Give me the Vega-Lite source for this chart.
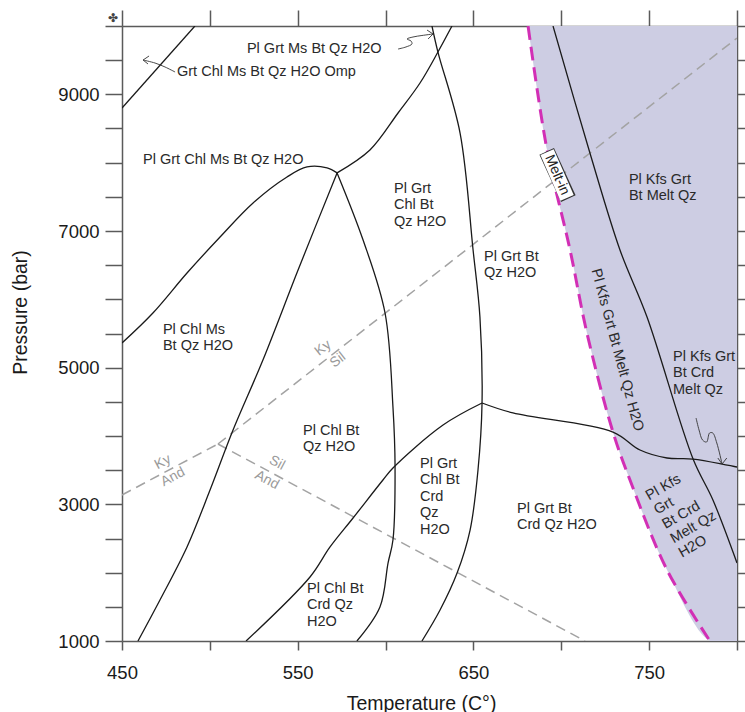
{
  "$schema": "https://vega.github.io/schema/vega-lite/v6.json",
  "width": 615,
  "height": 615,
  "autosize": {"type": "none"},
  "padding": {"left": 122, "top": 26, "right": 8, "bottom": 71},
  "background": "white",
  "config": {
    "view": {"stroke": null},
    "font": "Liberation Sans",
    "axis": {
      "grid": false,
      "domainColor": "#5a5a5a",
      "domainWidth": 1.5,
      "tickColor": "#5a5a5a",
      "tickWidth": 1.5,
      "labelFont": "Liberation Sans",
      "labelFontSize": 18.5,
      "labelColor": "#1a1a1a",
      "labelFlush": false,
      "titleFont": "Liberation Sans",
      "titleFontSize": 19.5,
      "titleFontWeight": "normal",
      "titleColor": "#1a1a1a"
    }
  },
  "resolve": {"axis": {"x": "independent", "y": "independent"}},
  "datasets": {
    "lines": [
      {"g": "p", "id": "L1", "i": 0, "T": 450, "P": 8800},
      {"g": "p", "id": "L1", "i": 1, "T": 491.5, "P": 10000},
      {"g": "p", "id": "LA", "i": 0, "T": 450, "P": 5361},
      {"g": "p", "id": "LA", "i": 1, "T": 467.6, "P": 5800},
      {"g": "p", "id": "LA", "i": 2, "T": 487.0, "P": 6385},
      {"g": "p", "id": "LA", "i": 3, "T": 505.8, "P": 6912},
      {"g": "p", "id": "LA", "i": 4, "T": 524.6, "P": 7410},
      {"g": "p", "id": "LA", "i": 5, "T": 543.9, "P": 7790},
      {"g": "p", "id": "LA", "i": 6, "T": 555.3, "P": 7937},
      {"g": "p", "id": "LA", "i": 7, "T": 566.7, "P": 7923},
      {"g": "p", "id": "LA", "i": 8, "T": 572.4, "P": 7850},
      {"g": "p", "id": "L3", "i": 0, "T": 572.4, "P": 7850},
      {"g": "p", "id": "L3", "i": 1, "T": 591.1, "P": 8185},
      {"g": "p", "id": "L3", "i": 2, "T": 607.1, "P": 8727},
      {"g": "p", "id": "L3", "i": 3, "T": 619.6, "P": 9166},
      {"g": "p", "id": "L3", "i": 4, "T": 629.8, "P": 9619},
      {"g": "p", "id": "L3", "i": 5, "T": 637.8, "P": 10000},
      {"g": "p", "id": "LD", "i": 0, "T": 572.4, "P": 7850},
      {"g": "p", "id": "LD", "i": 1, "T": 550.2, "P": 6429},
      {"g": "p", "id": "LD", "i": 2, "T": 530.2, "P": 5112},
      {"g": "p", "id": "LD", "i": 3, "T": 513.2, "P": 4088},
      {"g": "p", "id": "LD", "i": 4, "T": 500.1, "P": 3210},
      {"g": "p", "id": "LD", "i": 5, "T": 487.0, "P": 2376},
      {"g": "p", "id": "LD", "i": 6, "T": 471.6, "P": 1600},
      {"g": "p", "id": "LD", "i": 7, "T": 459.1, "P": 1000},
      {"g": "p", "id": "LR", "i": 0, "T": 572.4, "P": 7850},
      {"g": "p", "id": "LR", "i": 1, "T": 587.2, "P": 6868},
      {"g": "p", "id": "LR", "i": 2, "T": 599.7, "P": 5800},
      {"g": "p", "id": "LR", "i": 3, "T": 604.2, "P": 4424},
      {"g": "p", "id": "LR", "i": 4, "T": 605.4, "P": 3546},
      {"g": "p", "id": "LR", "i": 5, "T": 604.2, "P": 2478},
      {"g": "p", "id": "LR", "i": 6, "T": 601.4, "P": 2141},
      {"g": "p", "id": "LR", "i": 7, "T": 596.8, "P": 1498},
      {"g": "p", "id": "LR", "i": 8, "T": 583.7, "P": 1000},
      {"g": "p", "id": "L4", "i": 0, "T": 626.4, "P": 10000},
      {"g": "p", "id": "L4", "i": 1, "T": 629.8, "P": 9619},
      {"g": "p", "id": "L4", "i": 2, "T": 642.4, "P": 8434},
      {"g": "p", "id": "L4", "i": 3, "T": 649.8, "P": 6722},
      {"g": "p", "id": "L4", "i": 4, "T": 653.7, "P": 5741},
      {"g": "p", "id": "L4", "i": 5, "T": 654.9, "P": 4483},
      {"g": "p", "id": "L4", "i": 6, "T": 652.6, "P": 3502},
      {"g": "p", "id": "L4", "i": 7, "T": 648.1, "P": 2624},
      {"g": "p", "id": "L4", "i": 8, "T": 640.7, "P": 1995},
      {"g": "p", "id": "L4", "i": 9, "T": 631.0, "P": 1454},
      {"g": "p", "id": "L4", "i": 10, "T": 620.7, "P": 1000},
      {"g": "p", "id": "L5", "i": 0, "T": 520.6, "P": 1000},
      {"g": "p", "id": "L5", "i": 1, "T": 557.0, "P": 1937},
      {"g": "p", "id": "L5", "i": 2, "T": 568.4, "P": 2376},
      {"g": "p", "id": "L5", "i": 3, "T": 581.5, "P": 2800},
      {"g": "p", "id": "L5", "i": 4, "T": 598.5, "P": 3356},
      {"g": "p", "id": "L5", "i": 5, "T": 604.2, "P": 3532},
      {"g": "p", "id": "L5", "i": 6, "T": 632.7, "P": 4161},
      {"g": "p", "id": "L5", "i": 7, "T": 654.9, "P": 4483},
      {"g": "p", "id": "L6", "i": 0, "T": 654.9, "P": 4483},
      {"g": "p", "id": "L6", "i": 1, "T": 672.5, "P": 4337},
      {"g": "p", "id": "L6", "i": 2, "T": 729.4, "P": 4058},
      {"g": "p", "id": "L6", "i": 3, "T": 744.8, "P": 3795},
      {"g": "p", "id": "L6", "i": 4, "T": 760.2, "P": 3678},
      {"g": "p", "id": "L6", "i": 5, "T": 775.0, "P": 3663},
      {"g": "p", "id": "L6", "i": 6, "T": 800, "P": 3546},
      {"g": "p", "id": "L7", "i": 0, "T": 695.3, "P": 10000},
      {"g": "p", "id": "L7", "i": 1, "T": 716.3, "P": 8141},
      {"g": "p", "id": "L7", "i": 2, "T": 733.4, "P": 6722},
      {"g": "p", "id": "L7", "i": 3, "T": 748.8, "P": 5741},
      {"g": "p", "id": "L7", "i": 4, "T": 775.0, "P": 3663},
      {"g": "p", "id": "L7", "i": 5, "T": 786.3, "P": 3063},
      {"g": "p", "id": "L7", "i": 6, "T": 800, "P": 2141},
      {"g": "r", "id": "R1", "i": 0, "T": 450, "P": 3137},
      {"g": "r", "id": "R1", "i": 1, "T": 504.6, "P": 3883},
      {"g": "r", "id": "R2", "i": 0, "T": 504.6, "P": 3883},
      {"g": "r", "id": "R2", "i": 1, "T": 800, "P": 9824},
      {"g": "r", "id": "R3", "i": 0, "T": 504.6, "P": 3883},
      {"g": "r", "id": "R3", "i": 1, "T": 713.5, "P": 1000},
      {"g": "m", "id": "M", "i": 0, "T": 681.1, "P": 10000},
      {"g": "m", "id": "M", "i": 1, "T": 691.9, "P": 8185},
      {"g": "m", "id": "M", "i": 2, "T": 705.0, "P": 6722},
      {"g": "m", "id": "M", "i": 3, "T": 714.6, "P": 5507},
      {"g": "m", "id": "M", "i": 4, "T": 729.4, "P": 4058},
      {"g": "m", "id": "M", "i": 5, "T": 739.1, "P": 3356},
      {"g": "m", "id": "M", "i": 6, "T": 760.2, "P": 2039},
      {"g": "m", "id": "M", "i": 7, "T": 784.6, "P": 1000},
      {"g": "s", "id": "M", "i": 8, "T": 800, "P": 1000},
      {"g": "a", "id": "A1", "i": 0, "T": 607.1, "P": 9663},
      {"g": "a", "id": "A1", "i": 1, "T": 611.6, "P": 9693},
      {"g": "a", "id": "A1", "i": 2, "T": 615.0, "P": 9737},
      {"g": "a", "id": "A1", "i": 3, "T": 614.5, "P": 9780},
      {"g": "a", "id": "A1", "i": 4, "T": 612.2, "P": 9810},
      {"g": "a", "id": "A1", "i": 5, "T": 615.6, "P": 9839},
      {"g": "a", "id": "A1", "i": 6, "T": 620.7, "P": 9861},
      {"g": "a", "id": "A1", "i": 7, "T": 627.0, "P": 9883},
      {"g": "h", "id": "H1", "i": 0, "T": 623.6, "P": 9941},
      {"g": "h", "id": "H1", "i": 1, "T": 627.0, "P": 9883},
      {"g": "h", "id": "H1", "i": 2, "T": 624.2, "P": 9810},
      {"g": "a", "id": "A2", "i": 0, "T": 480.2, "P": 9327},
      {"g": "a", "id": "A2", "i": 1, "T": 474.5, "P": 9400},
      {"g": "a", "id": "A2", "i": 2, "T": 468.8, "P": 9458},
      {"g": "a", "id": "A2", "i": 3, "T": 462.0, "P": 9502},
      {"g": "h", "id": "H2", "i": 0, "T": 465.4, "P": 9561},
      {"g": "h", "id": "H2", "i": 1, "T": 462.0, "P": 9502},
      {"g": "h", "id": "H2", "i": 2, "T": 464.8, "P": 9444},
      {"g": "a", "id": "A3", "i": 0, "T": 776.7, "P": 4263},
      {"g": "a", "id": "A3", "i": 1, "T": 778.4, "P": 4088},
      {"g": "a", "id": "A3", "i": 2, "T": 780.4, "P": 3941},
      {"g": "a", "id": "A3", "i": 3, "T": 782.7, "P": 3912},
      {"g": "a", "id": "A3", "i": 4, "T": 784.4, "P": 4044},
      {"g": "a", "id": "A3", "i": 5, "T": 786.2, "P": 4044},
      {"g": "a", "id": "A3", "i": 6, "T": 788.5, "P": 3898},
      {"g": "a", "id": "A3", "i": 7, "T": 791.5, "P": 3590},
      {"g": "h", "id": "H3", "i": 0, "T": 789.1, "P": 3678},
      {"g": "h", "id": "H3", "i": 1, "T": 791.5, "P": 3590},
      {"g": "h", "id": "H3", "i": 2, "T": 794.2, "P": 3678},
      {"g": "bo", "id": "B", "i": 0, "T": 691.7, "P": 8166},
      {"g": "bo", "id": "B", "i": 1, "T": 704.0, "P": 7473},
      {"g": "bi", "id": "B", "i": 0, "T": 691.9, "P": 8155},
      {"g": "bi", "id": "B", "i": 1, "T": 703.3, "P": 7484}
    ],
    "labels": [
      {"T": 521.1, "P": 9770, "text": "Pl Grt Ms Bt Qz H2O"},
      {"T": 481.3, "P": 9434, "text": "Grt Chl Ms Bt Qz H2O Omp"},
      {"T": 462.0, "P": 8146, "text": "Pl Grt Chl Ms Bt Qz H2O"},
      {"T": 604.8, "P": 7721, "text": "Pl Grt|Chl Bt|Qz H2O"},
      {"T": 656.0, "P": 6726, "text": "Pl Grt Bt|Qz H2O"},
      {"T": 738.5, "P": 7853, "text": "Pl Kfs Grt|Bt Melt Qz"},
      {"T": 473.3, "P": 5658, "text": "Pl Chl Ms|Bt Qz H2O"},
      {"T": 553.0, "P": 4180, "text": "Pl Chl Bt|Qz H2O"},
      {"T": 619.6, "P": 3697, "text": "Pl Grt|Chl Bt|Crd|Qz|H2O"},
      {"T": 674.8, "P": 3039, "text": "Pl Grt Bt|Crd Qz H2O"},
      {"T": 555.3, "P": 1868, "text": "Pl Chl Bt|Crd Qz|H2O"},
      {"T": 763.6, "P": 5263, "text": "Pl Kfs Grt|Bt Crd|Melt Qz"}
    ]
  },
  "layer": [
    {
      "data": {"name": "lines"},
      "transform": [{"filter": "datum.g === 'm' || datum.g === 's'"}],
      "mark": {"type": "area", "color": "#cdcde3", "opacity": 1, "interpolate": "catmull-rom", "clip": true},
      "encoding": {
        "x": {"field": "T", "type": "quantitative", "scale": {"domain": [450, 800], "nice": false, "zero": false},
          "axis": {"orient": "bottom", "values": [450, 500, 550, 600, 650, 700, 750, 800], "labelExpr": "datum.value % 100 == 50 ? datum.label : ''", "tickSize": 9, "labelPadding": 13, "title": "Temperature (C°)", "titleX": 299, "titleY": 62, "titleBaseline": "middle", "titleAlign": "center", "titleAnchor": null, "format": "d"}},
        "y": {"field": "P", "type": "quantitative", "stack": null, "scale": {"domain": [1000, 10000], "nice": false, "zero": false},
          "axis": {"orient": "left", "values": [1000, 1500, 2000, 2500, 3000, 3500, 4000, 4500, 5000, 5500, 6000, 6500, 7000, 7500, 8000, 8500, 9000, 9500, 10000], "labelExpr": "(datum.value - 1000) % 2000 == 0 ? datum.label : ''", "format": "d", "tickSize": 17, "labelPadding": 6, "title": "Pressure (bar)", "titleX": -102, "titleY": 286, "titleAngle": -90, "titleBaseline": "middle", "titleAlign": "center", "titleAnchor": null}},
        "y2": {"datum": 10000}
      }
    },
    {
      "data": {"name": "lines"},
      "transform": [{"filter": "datum.g === 'r'"}],
      "mark": {"type": "line", "color": "#a3a3a3", "strokeWidth": 1.5, "strokeDash": [10, 6], "clip": true},
      "encoding": {
        "x": {"field": "T", "type": "quantitative", "axis": {"orient": "top", "values": [450, 500, 550, 600, 650, 700, 750, 800], "labels": false, "tickSize": 16, "title": null}},
        "y": {"field": "P", "type": "quantitative", "axis": {"orient": "right", "values": [1000, 1500, 2000, 2500, 3000, 3500, 4000, 4500, 5000, 5500, 6000, 6500, 7000, 7500, 8000, 8500, 9000, 9500, 10000], "labels": false, "tickSize": 8, "title": null}},
        "detail": {"field": "id"},
        "order": {"field": "i", "type": "quantitative"}
      }
    },
    {
      "data": {"name": "lines"},
      "transform": [{"filter": "datum.g === 'p'"}],
      "mark": {"type": "line", "color": "#1a1a1a", "strokeWidth": 1.3, "interpolate": "catmull-rom", "clip": true},
      "encoding": {
        "x": {"field": "T", "type": "quantitative", "axis": null},
        "y": {"field": "P", "type": "quantitative", "axis": null},
        "detail": {"field": "id"},
        "order": {"field": "i", "type": "quantitative"}
      }
    },
    {
      "data": {"name": "lines"},
      "transform": [{"filter": "datum.g === 'm'"}],
      "mark": {"type": "line", "color": "#d22fb5", "strokeWidth": 3, "strokeDash": [14, 7], "interpolate": "catmull-rom", "clip": true},
      "encoding": {
        "x": {"field": "T", "type": "quantitative", "axis": null},
        "y": {"field": "P", "type": "quantitative", "axis": null},
        "detail": {"field": "id"},
        "order": {"field": "i", "type": "quantitative"}
      }
    },
    {
      "data": {"name": "lines"},
      "transform": [{"filter": "datum.g === 'a'"}],
      "mark": {"type": "line", "color": "#333333", "strokeWidth": 0.9, "interpolate": "catmull-rom", "clip": true},
      "encoding": {
        "x": {"field": "T", "type": "quantitative", "axis": null},
        "y": {"field": "P", "type": "quantitative", "axis": null},
        "detail": {"field": "id"},
        "order": {"field": "i", "type": "quantitative"}
      }
    },
    {
      "data": {"name": "lines"},
      "transform": [{"filter": "datum.g === 'h'"}],
      "mark": {"type": "line", "color": "#333333", "strokeWidth": 0.9, "clip": true},
      "encoding": {
        "x": {"field": "T", "type": "quantitative", "axis": null},
        "y": {"field": "P", "type": "quantitative", "axis": null},
        "detail": {"field": "id"},
        "order": {"field": "i", "type": "quantitative"}
      }
    },
    {
      "data": {"name": "lines"},
      "transform": [{"filter": "datum.g === 'bo'"}],
      "mark": {"type": "line", "color": "#333333", "strokeWidth": 16, "strokeCap": "butt"},
      "encoding": {
        "x": {"field": "T", "type": "quantitative", "axis": null},
        "y": {"field": "P", "type": "quantitative", "axis": null},
        "order": {"field": "i", "type": "quantitative"}
      }
    },
    {
      "data": {"name": "lines"},
      "transform": [{"filter": "datum.g === 'bi'"}],
      "mark": {"type": "line", "color": "#ffffff", "strokeWidth": 14.4, "strokeCap": "butt"},
      "encoding": {
        "x": {"field": "T", "type": "quantitative", "axis": null},
        "y": {"field": "P", "type": "quantitative", "axis": null},
        "order": {"field": "i", "type": "quantitative"}
      }
    },
    {
      "data": {"values": [{"T": 697.6, "P": 7819, "text": "Melt-in"}]},
      "mark": {"type": "text", "angle": 66.5, "fontSize": 14, "align": "center", "baseline": "middle", "color": "#222222", "font": "Liberation Sans"},
      "encoding": {
        "x": {"field": "T", "type": "quantitative", "axis": null},
        "y": {"field": "P", "type": "quantitative", "axis": null},
        "text": {"field": "text"}
      }
    },
    {
      "data": {"name": "labels"},
      "mark": {"type": "text", "align": "left", "baseline": "top", "fontSize": 14.5, "lineHeight": 16.5, "lineBreak": "|", "color": "#2a2a2a", "font": "Liberation Sans"},
      "encoding": {
        "x": {"field": "T", "type": "quantitative", "axis": null},
        "y": {"field": "P", "type": "quantitative", "axis": null},
        "text": {"field": "text"}
      }
    },
    {
      "data": {"values": [{"T": 731.7, "P": 5259, "text": "Pl Kfs Grt Bt Melt Qz H2O"}]},
      "mark": {"type": "text", "angle": 75, "align": "center", "baseline": "middle", "fontSize": 14.5, "color": "#2a2a2a", "font": "Liberation Sans"},
      "encoding": {
        "x": {"field": "T", "type": "quantitative", "axis": null},
        "y": {"field": "P", "type": "quantitative", "axis": null},
        "text": {"field": "text"}
      }
    },
    {
      "data": {"values": [{"T": 746.8, "P": 3195, "text": "Pl Kfs|Grt|Bt Crd|Melt Qz|H2O"}]},
      "mark": {"type": "text", "angle": -30, "align": "left", "baseline": "top", "fontSize": 14.5, "lineHeight": 16.5, "lineBreak": "|", "color": "#2a2a2a", "font": "Liberation Sans"},
      "encoding": {
        "x": {"field": "T", "type": "quantitative", "axis": null},
        "y": {"field": "P", "type": "quantitative", "axis": null},
        "text": {"field": "text"}
      }
    },
    {
      "data": {"values": [{"T": 564.4, "P": 5288, "text": "Ky"}, {"T": 572.9, "P": 5112, "text": "Sil"}]},
      "mark": {"type": "text", "angle": -38, "align": "center", "baseline": "middle", "fontSize": 14, "color": "#9a9a9a", "font": "Liberation Sans"},
      "encoding": {
        "x": {"field": "T", "type": "quantitative", "axis": null},
        "y": {"field": "P", "type": "quantitative", "axis": null},
        "text": {"field": "text"}
      }
    },
    {
      "data": {"values": [{"T": 473.3, "P": 3619, "text": "Ky"}, {"T": 479.0, "P": 3400, "text": "And"}]},
      "mark": {"type": "text", "angle": -28, "align": "center", "baseline": "middle", "fontSize": 14, "color": "#9a9a9a", "font": "Liberation Sans"},
      "encoding": {
        "x": {"field": "T", "type": "quantitative", "axis": null},
        "y": {"field": "P", "type": "quantitative", "axis": null},
        "text": {"field": "text"}
      }
    },
    {
      "data": {"values": [{"T": 538.2, "P": 3605, "text": "Sil"}, {"T": 532.5, "P": 3356, "text": "And"}]},
      "mark": {"type": "text", "angle": 28, "align": "center", "baseline": "middle", "fontSize": 14, "color": "#9a9a9a", "font": "Liberation Sans"},
      "encoding": {
        "x": {"field": "T", "type": "quantitative", "axis": null},
        "y": {"field": "P", "type": "quantitative", "axis": null},
        "text": {"field": "text"}
      }
    },
    {
      "data": {"values": [{"T": 444.9, "P": 10117, "text": "✤"}]},
      "mark": {"type": "text", "align": "center", "baseline": "middle", "fontSize": 12, "color": "#444444", "font": "DejaVu Sans", "clip": false},
      "encoding": {
        "x": {"field": "T", "type": "quantitative", "axis": null},
        "y": {"field": "P", "type": "quantitative", "axis": null},
        "text": {"field": "text"}
      }
    }
  ]
}
